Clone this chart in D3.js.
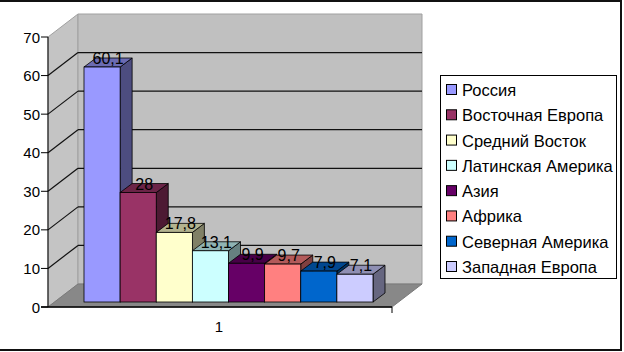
<!DOCTYPE html>
<html lang="ru">
<head>
<meta charset="UTF-8">
<title>Диаграмма</title>
<script src="https://cdnjs.cloudflare.com/ajax/libs/d3/7.8.5/d3.min.js"></script>
<style>
  body { margin: 0; background: #fff; }
  text { font-family: "Liberation Sans", Arial, sans-serif; font-size: 15px; fill: #000; }
  .val { font-size: 16px; }
  .leg { font-size: 16.5px; }
</style>
</head>
<body>
<div id="chart"></div>
<script>
// данные
const regions = ['Россия', 'Восточная Европа', 'Средний Восток', 'Латинская Америка',
                 'Азия', 'Африка', 'Северная Америка', 'Западная Европа'];
const values = [60.1, 28, 17.8, 13.1, 9.9, 9.7, 7.9, 7.1];
const colors = ['#9999ff', '#993366', '#ffffcc', '#ccffff', '#660066', '#ff8080', '#0066cc', '#ccccff'];
const yTicks = [0, 10, 20, 30, 40, 50, 60, 70];
const category = ['1'];

const width = 624, height = 352;

const svg = d3.select('#chart').append('svg')
  .attr('width', width).attr('height', height);

// рамка
svg.append('rect')
  .attr('x', -2).attr('y', 1).attr('width', 623).attr('height', 349)
  .attr('fill', '#fff').attr('stroke', '#111').attr('stroke-width', 2);

// глубина стенок
const wdx = 30, wdy = -23;
const x0 = 48, x1 = 392;

// шкалы
const yWall = d3.scaleLinear().domain([0, 70]).range([307, 37]);
const yBar = d3.scaleLinear().domain([0, 70]).range([302, 302 - 70 * 3.91]);
const xCat = d3.scaleBand().domain(category).range([x0, x1]);
const xBar = d3.scaleBand().domain(regions).range([84, 373]);

// левая стенка
svg.append('polygon')
  .attr('points', [[x0, yWall(0)], [x0, yWall(70)], [x0 + wdx, yWall(70) + wdy], [x0 + wdx, yWall(0) + wdy]].join(' '))
  .attr('fill', '#c4c4c4').attr('stroke', '#a0a0a0');
// задняя стенка
svg.append('polygon')
  .attr('points', [[x0 + wdx, yWall(0) + wdy], [x0 + wdx, yWall(70) + wdy], [x1 + wdx, yWall(70) + wdy], [x1 + wdx, yWall(0) + wdy]].join(' '))
  .attr('fill', '#c0c0c0').attr('stroke', '#a0a0a0');
// пол
svg.append('polygon')
  .attr('points', [[x0, yWall(0)], [x1, yWall(0)], [x1 + wdx, yWall(0) + wdy], [x0 + wdx, yWall(0) + wdy]].join(' '))
  .attr('fill', '#888888').attr('stroke', '#7a7a7a');

// линии сетки
const grid = svg.append('g').attr('stroke', '#111').attr('stroke-width', 1.2);
yTicks.filter(t => t > 0 && t < 70).forEach(t => {
  grid.append('line')
    .attr('x1', x0).attr('y1', yWall(t)).attr('x2', x0 + wdx).attr('y2', yWall(t) + wdy);
  grid.append('line')
    .attr('x1', x0 + wdx).attr('y1', yWall(t) + wdy).attr('x2', x1 + wdx).attr('y2', yWall(t) + wdy);
});

// ось Y
const yAxis = svg.append('g');
yAxis.append('line').attr('x1', x0).attr('x2', x0).attr('y1', yWall(0)).attr('y2', yWall(70)).attr('stroke', '#000');
yTicks.forEach(t => {
  yAxis.append('line').attr('x1', x0 - 7).attr('x2', x0).attr('y1', yWall(t)).attr('y2', yWall(t)).attr('stroke', '#000');
  yAxis.append('text').attr('x', x0 - 8).attr('y', yWall(t) + 5.5).attr('text-anchor', 'end').text(t);
});

// ось X
svg.append('line').attr('x1', x0 - 7).attr('x2', x1).attr('y1', yWall(0)).attr('y2', yWall(0)).attr('stroke', '#000').attr('stroke-width', 1.5);
svg.append('line').attr('x1', x1).attr('x2', x1).attr('y1', yWall(0)).attr('y2', yWall(0) + 6).attr('stroke', '#000');
svg.selectAll('.xlab').data(category).enter().append('text')
  .attr('class', 'xlab')
  .attr('x', d => xCat(d) + xCat.bandwidth() / 2 - 1)
  .attr('y', 332)
  .attr('text-anchor', 'middle')
  .text(d => d);

// столбики
const bdx = 12, bdy = -9;
const bars = svg.selectAll('.bar').data(regions).enter().append('g').attr('class', 'bar');
bars.each(function (d, i) {
  const g = d3.select(this);
  const xl = xBar(d), xr = xl + xBar.bandwidth();
  const yt = yBar(values[i]), yb = yBar(0);
  const c = d3.color(colors[i]);
  // боковая грань
  g.append('polygon')
    .attr('points', [[xr, yb], [xr, yt], [xr + bdx, yt + bdy], [xr + bdx, yb + bdy]].join(' '))
    .attr('fill', d3.rgb(c.r * 0.5, c.g * 0.5, c.b * 0.5)).attr('stroke', '#000').attr('stroke-width', 0.8);
  // верхняя грань
  g.append('polygon')
    .attr('points', [[xl, yt], [xr, yt], [xr + bdx, yt + bdy], [xl + bdx, yt + bdy]].join(' '))
    .attr('fill', d3.rgb(c.r * 0.7, c.g * 0.7, c.b * 0.7)).attr('stroke', '#000').attr('stroke-width', 0.8);
  // передняя грань
  g.append('rect')
    .attr('x', xl).attr('y', yt).attr('width', xr - xl).attr('height', yb - yt)
    .attr('fill', colors[i]).attr('stroke', '#000').attr('stroke-width', 0.8);
});

// подписи значений
svg.selectAll('.val').data(values).enter().append('text')
  .attr('class', 'val')
  .attr('x', (v, i) => xBar(regions[i]) + xBar.bandwidth() / 2 + bdx / 2)
  .attr('y', v => yBar(v) - 3)
  .attr('text-anchor', 'middle')
  .text(v => String(v).replace('.', ','));

// легенда
const lg = svg.append('g');
lg.append('rect').attr('x', 440.5).attr('y', 75.5).attr('width', 176).attr('height', 203)
  .attr('fill', '#fff').attr('stroke', '#000');
const ly = d3.scaleLinear().domain([0, regions.length - 1]).range([90, 267]);
regions.forEach((r, i) => {
  lg.append('rect').attr('x', 446.5).attr('y', ly(i) - 5.5).attr('width', 10).attr('height', 10)
    .attr('fill', colors[i]).attr('stroke', '#000');
  lg.append('text').attr('class', 'leg').attr('x', 462).attr('y', ly(i) + 6).text(r);
});
</script>
</body>
</html>
